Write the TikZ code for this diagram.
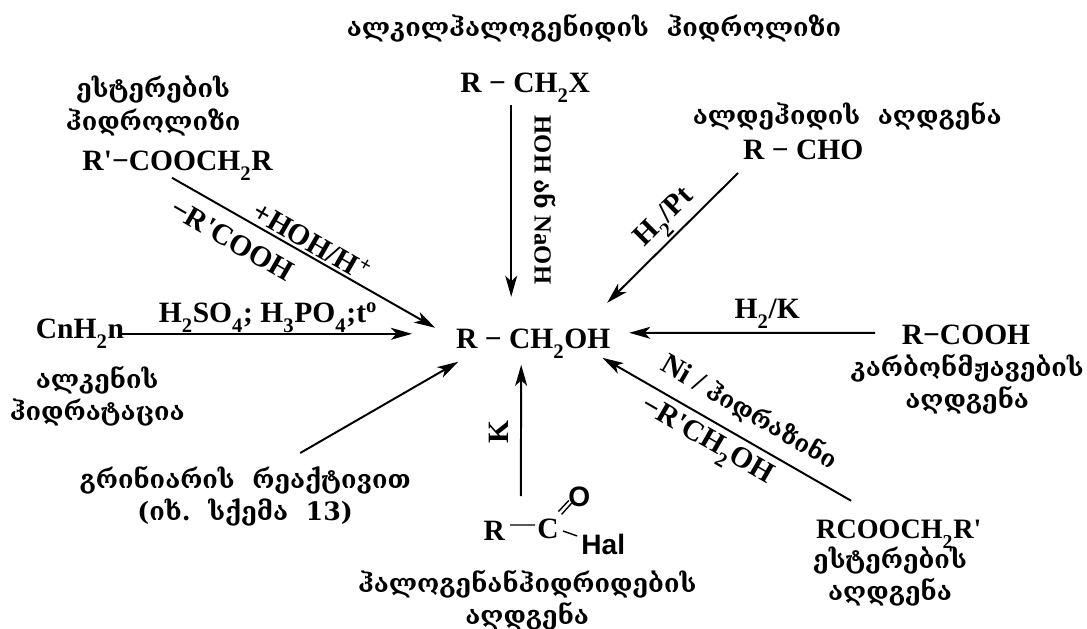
\documentclass[tikz,border=0pt]{standalone}
\usepackage{fontspec}
\setmainfont{Liberation Serif}
\newfontfamily\geofont{DejaVu Serif}
\newfontfamily\halfont{Liberation Sans}
\usepackage{tikz}
\usetikzlibrary{arrows.meta}
\newcommand{\low}[1]{\raisebox{-0.4ex}{\textsubscript{#1}}}
\newcommand{\prm}{\textquotesingle}
\tikzset{
  chem/.style={font=\fontsize{21}{24}\selectfont\bfseries, inner sep=1pt, anchor=base},
  label/.style={font=\fontsize{21}{24}\selectfont\bfseries, inner sep=1pt},
  geo/.style={font=\fontsize{18}{23}\selectfont\geofont\bfseries, align=center, inner sep=1pt},
  hal/.style={font=\fontsize{20}{22}\selectfont\halfont\bfseries, inner sep=1pt},
  rxn/.style={draw, line width=1.4pt, -{Stealth[length=15pt,width=8.5pt,inset=4pt]}},
  bond/.style={line width=1pt}
}
\begin{document}
\begin{tikzpicture}
  \useasboundingbox (0,0) rectangle (27.175,15.7);
  % Title
  \node[geo] (title) at (14.85,15.0) {ალკილჰალოგენიდის\ \ ჰიდროლიზი};
  % Product in the middle
  \node[chem] (product) at (13.33,6.98) {R − CH\low{2}OH};
  % Starting materials
  \node[chem] (halide) at (13.13,13.38) {R − CH\low{2}X};
  \node[geo] (esterhyd) at (3.83,13.05) {ესტერების\\ჰიდროლიზი};
  \node[chem] (ester) at (4.44,11.43) {R\prm−COOCH\low{2}R};
  \node[geo] (aldname) at (21.18,12.8) {ალდეჰიდის\ \ აღდგენა};
  \node[chem] (aldehyde) at (20.08,11.7) {R − CHO};
  \node[chem] (alkene) at (2.0,7.23) {CnH\low{2}n};
  \node[geo] (alkname) at (2.43,5.8) {ალკენის\\ჰიდრატაცია};
  \node[chem] (acid) at (24.15,7.08) {R−COOH};
  \node[geo] (acidname) at (24.18,6.1) {კარბონმჟავების\\აღდგენა};
  \node[geo] (grignard) at (6.13,3.3) {გრინიარის\ \ რეაქტივით\\(იხ.\ \ სქემა\ \ 13)};
  \node[chem, font=\fontsize{20}{24}\selectfont\bfseries] (esterb) at (22.47,2.23) {RCOOCH\low{2}R\prm};
  \node[geo] (esterbname) at (22.25,1.28) {ესტერების\\აღდგენა};
  \node[geo] (halname) at (13.18,0.7) {ჰალოგენანჰიდრიდების\\აღდგენა};
  % Acyl halide
  \node[chem] (acylR) at (12.36,2.2) {R};
  \node[chem] (acylC) at (13.7,2.25) {C};
  \node[hal] (acylO) at (14.48,3.28) {O};
  \node[hal, anchor=base] (acylHal) at (15.08,1.85) {Hal};
  \draw[bond] ([shift={(0.39,0.375)}]acylR.base) -- ([shift={(-0.325,0.325)}]acylC.base);
  \draw[bond] ([shift={(0.26,0.66)}]acylC.base) -- ([shift={(-0.26,-0.09)}]acylO.center);
  \draw[bond] ([shift={(0.34,0.59)}]acylC.base) -- ([shift={(-0.19,-0.16)}]acylO.center);
  \draw[bond] ([shift={(0.375,0.175)}]acylC.base) -- ([shift={(-0.65,0.45)}]acylHal.base);
  % Arrows to the product
  \draw[rxn] ([shift={(-0.35,-0.3)}]halide.base) -- ([shift={(-0.55,1.3)}]product.base);
  \draw[rxn] ([shift={(-0.14,-0.175)}]ester.base) -- ([shift={(-2.45,0.525)}]product.base);
  \draw[rxn] ([shift={(1.05,0.125)}]alkene.base) -- ([shift={(-3.03,0.375)}]product.base);
  \draw[rxn] ([shift={(-1.63,-0.325)}]aldehyde.base) -- ([shift={(1.85,1.15)}]product.base);
  \draw[rxn] ([shift={(-2.275,0.3)}]acid.base) -- ([shift={(2.4,0.4)}]product.base);
  \draw[rxn] ([shift={(-1.19,0.95)}]esterb.base) -- ([shift={(1.73,-0.225)}]product.base);
  \draw[rxn] ([shift={(0.66,1.1)}]acylR.base) -- ([shift={(-0.3,-0.4)}]product.base);
  \draw[rxn] ([shift={(1.375,1.075)}]grignard.center) -- ([shift={(-1.875,-0.325)}]product.base);
  % Reagents on the arrows
  \node[label, rotate=-90, font=\fontsize{17.5}{20}\selectfont\bfseries] (hoh) at (13.63,10.7) {HOH\ {\geofont ან}\ NaOH};
  \node[chem] (sulf) at (6.7,7.63) {H\low{2}SO\low{4}; H\low{3}PO\low{4};t\textsuperscript{o}};
  \node[label, rotate=45] (pt) at (16.65,10.22) {H\low{2}/Pt};
  \node[chem] (hk) at (19.18,7.73) {H\low{2}/K};
  \node[label, rotate=90] (kcat) at (12.48,4.9) {K};
  \node[label, rotate=-30] (plushoh) at (7.8,9.68) {+HOH/H\textsuperscript{+}};
  \node[label, rotate=-30] (minacid) at (5.8,9.7) {−R\prm COOH};
  \node[label, rotate=-30] (nihyd) at (18.73,5.38) {Ni / {\geofont\fontsize{17}{20}\selectfont ჰიდრაზინი}};
  \node[label, rotate=-30] (minalc) at (17.65,4.63) {−R\prm CH\low{2}OH};
\end{tikzpicture}
\end{document}
